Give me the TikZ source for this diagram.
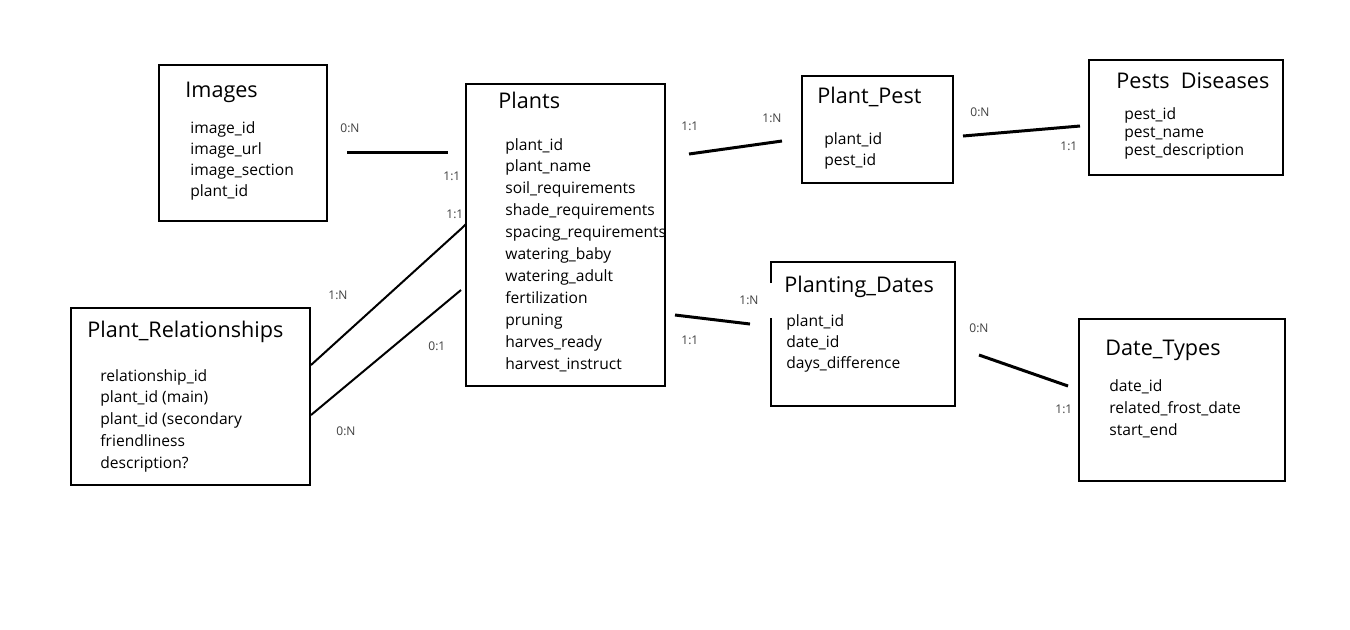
\documentclass[tikz,border=0pt]{standalone}
\usepackage{fontspec}
\setmainfont{Open Sans}
\begin{document}
\begin{tikzpicture}[x=0.5pt,y=-0.5pt,
  box/.style={draw,line width=1pt,rectangle,inner sep=0},
  ttl/.style={anchor=base west,inner sep=0,font=\fontsize{10.8}{13}\selectfont},
  attr/.style={anchor=base west,inner sep=0,font=\fontsize{7.8}{10}\selectfont},
  card/.style={anchor=west,inner sep=0,font=\fontsize{6}{7}\selectfont,text=black!75},
  rel/.style={line width=1.5pt},
  relthin/.style={line width=1pt}]
\useasboundingbox (0,0) rectangle (1350,629);
\fill[white] (0,0) rectangle (1350,629);

% ---------- Images
\node[box,minimum width=84pt,minimum height=78pt] (images) at (243,143) {};
\node[ttl] (imagesT) at (185,97) {Images};
\foreach \t [count=\i] in {image\_id,image\_url,image\_section,plant\_id}
  \node[attr] (imagesA\i) at (190,{133+21.3*(\i-1)}) {\t};

% ---------- Plants
\node[box,minimum width=99.5pt,minimum height=151pt] (plants) at (565.5,235) {};
\node[ttl] (plantsT) at (498,108) {Plants};
\foreach \t [count=\i] in {plant\_id,plant\_name,soil\_requirements,shade\_requirements,spacing\_requirements,watering\_baby,watering\_adult,fertilization,pruning,harves\_ready,harvest\_instruct}
  \node[attr] (plantsA\i) at (505,{150+21.9*(\i-1)}) {\t};

% ---------- Plant_Relationships
\node[box,minimum width=119.5pt,minimum height=88.5pt] (prel) at (190.5,396.5) {};
\node[ttl] (prelT) at (87,337) {Plant\_Relationships};
\foreach \t [count=\i] in {relationship\_id,plant\_id (main),plant\_id (secondary,friendliness,description?}
  \node[attr] (prelA\i) at (100,{381+21.75*(\i-1)}) {\t};

% ---------- Plant_Pest
\node[box,minimum width=75.5pt,minimum height=53.5pt] (ppest) at (877.5,129.5) {};
\node[ttl] (ppestT) at (817,103) {Plant\_Pest};
\foreach \t [count=\i] in {plant\_id,pest\_id}
  \node[attr] (ppestA\i) at (824,{144.5+21*(\i-1)}) {\t};

% ---------- Pests Diseases
\node[box,minimum width=97pt,minimum height=57.5pt] (pests) at (1186,117.5) {};
\node[ttl] (pestsT) at (1116,88) {Pests\ \ Diseases};
\foreach \t [count=\i] in {pest\_id,pest\_name,pest\_description}
  \node[attr] (pestsA\i) at (1124,{119.5+17.8*(\i-1)}) {\t};

% ---------- Planting_Dates (left border has a gap)
\node[minimum width=92pt,minimum height=72pt,inner sep=0] (pdates) at (863,334) {};
\draw[line width=1pt] (771,283) -- (771,262) -- (955,262) -- (955,406) -- (771,406) -- (771,318);
\node[ttl] (pdatesT) at (784,292) {Planting\_Dates};
\foreach \t [count=\i] in {plant\_id,date\_id,days\_difference}
  \node[attr] (pdatesA\i) at (786,{326.5+21*(\i-1)}) {\t};

% ---------- Date_Types
\node[box,minimum width=103pt,minimum height=81pt] (dtypes) at (1182,400) {};
\node[ttl] (dtypesT) at (1105,355) {Date\_Types};
\foreach \t [count=\i] in {date\_id,related\_frost\_date,start\_end}
  \node[attr] (dtypesA\i) at (1109,{391.5+22*(\i-1)}) {\t};

% ---------- connectors
\coordinate (c1a) at (347,152); \coordinate (c1b) at (448,152);
\draw[rel] (c1a) -- (c1b);
\node[card] (l1a) at (340,128) {0:N};
\node[card] (l1b) at (443,176) {1:1};

\coordinate (c2a) at (689,154); \coordinate (c2b) at (782,141);
\draw[rel] (c2a) -- (c2b);
\node[card] (l2a) at (681,126) {1:1};
\node[card] (l2b) at (762,118) {1:N};

\coordinate (c3a) at (963,136); \coordinate (c3b) at (1080,126);
\draw[rel] (c3a) -- (c3b);
\node[card] (l3a) at (970,112) {0:N};
\node[card] (l3b) at (1060,146) {1:1};

\coordinate (c4a) at (675,315); \coordinate (c4b) at (750,324);
\draw[rel] (c4a) -- (c4b);
\node[card] (l4a) at (739,300) {1:N};
\node[card] (l4b) at (681,340) {1:1};

\coordinate (c5a) at (979,355); \coordinate (c5b) at (1068,386);
\draw[rel] (c5a) -- (c5b);
\node[card] (l5a) at (969,328) {0:N};
\node[card] (l5b) at (1055,409) {1:1};

\coordinate (c6a) at (311,365); \coordinate (c6m) at (462,228); \coordinate (c6b) at (466,224);
\draw[relthin] (c6a) -- (c6m) -- (c6b);
\node[card] (l6a) at (328,295) {1:N};
\node[card] (l6b) at (446,214) {1:1};

\coordinate (c7a) at (311,415); \coordinate (c7b) at (461,290);
\draw[relthin] (c7a) -- (c7b);
\node[card] (l7a) at (428,346) {0:1};
\node[card] (l7b) at (336,431) {0:N};
\end{tikzpicture}
\end{document}
